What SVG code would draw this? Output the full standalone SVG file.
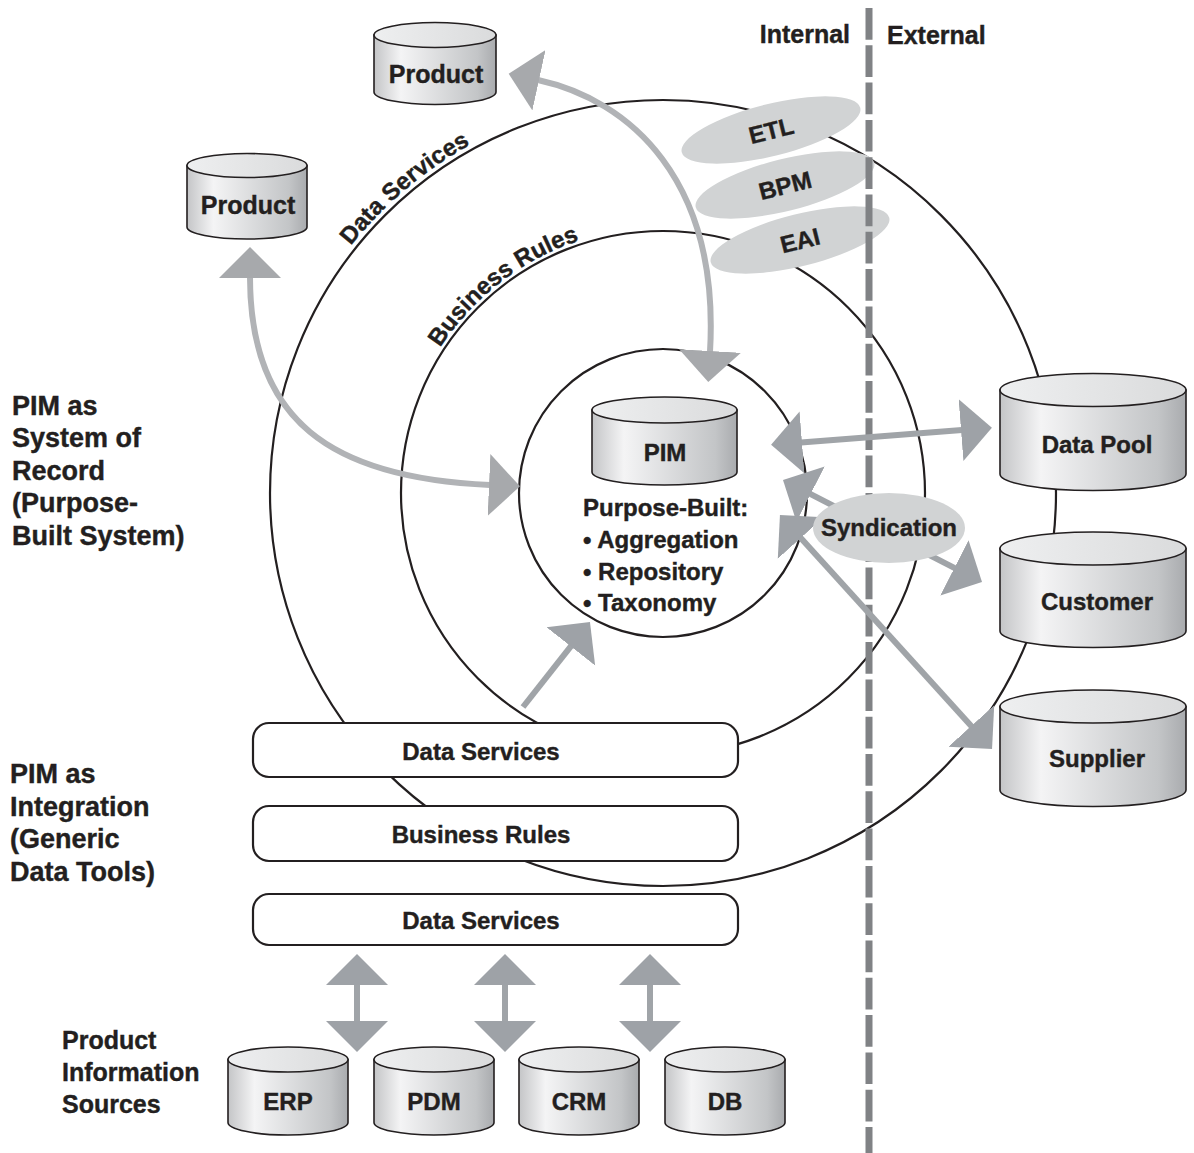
<svg xmlns="http://www.w3.org/2000/svg" width="1194" height="1153" viewBox="0 0 1194 1153">
<defs>
<style>
text { font-family: "Liberation Sans", Arial, sans-serif; font-weight: bold; fill: #231f20; stroke: #231f20; stroke-width: 0.4; font-size: 24px; }
.lbl { font-size: 27px; }
.big { font-size: 25px; }
.mid { text-anchor: middle; }
.ring { fill: none; stroke: #231f20; stroke-width: 2.2; }
.box { fill: #ffffff; stroke: #231f20; stroke-width: 2.2; }
.cyl { fill: url(#cylGrad); stroke: #231f20; stroke-width: 1.6; }
.cyltop { fill: url(#topGrad); stroke: #231f20; stroke-width: 1.6; }
.oval { fill: #d1d3d4; }
.shaft { fill: none; stroke: #a0a4a8; stroke-width: 6; marker-start: url(#ah); marker-end: url(#ah); }
.cshaft { fill: none; stroke: #b1b3b6; stroke-width: 6; marker-start: url(#ahc); marker-end: url(#ahc); }
.single { fill: none; stroke: #a0a4a8; stroke-width: 6; marker-end: url(#ah); }
.divider { fill: none; stroke: #808285; stroke-width: 7; stroke-dasharray: 31.7 5.6; }
</style>
<linearGradient id="cylGrad" x1="0" y1="0" x2="1" y2="0">
<stop offset="0" stop-color="#c4c5c7"/>
<stop offset="0.22" stop-color="#f4f4f5"/>
<stop offset="0.85" stop-color="#c3c5c7"/>
<stop offset="1" stop-color="#a9abae"/>
</linearGradient>
<linearGradient id="topGrad" x1="0" y1="0" x2="1" y2="0">
<stop offset="0" stop-color="#eeeff0"/>
<stop offset="1" stop-color="#dadbdc"/>
</linearGradient>
<marker id="ah" markerUnits="userSpaceOnUse" viewBox="0 0 32 64" markerWidth="32" markerHeight="64" refX="1" refY="32" orient="auto-start-reverse">
<path d="M0,1 L31,32 L0,63 Z" fill="#9ea2a7"/>
</marker>
<marker id="ahc" markerUnits="userSpaceOnUse" viewBox="0 0 32 64" markerWidth="32" markerHeight="64" refX="1" refY="32" orient="auto-start-reverse">
<path d="M0,1 L31,32 L0,63 Z" fill="#a7a9ac"/>
</marker>
<path id="arcOuter" d="M318.3,294 A398,398 0 0 1 862,148.3"/>
<path id="arcMid" d="M432.6,360 A266,266 0 0 1 796,262.6"/>
</defs>

<g id="rings">
<circle class="ring" cx="663" cy="493" r="393"/>
<circle class="ring" cx="663" cy="493" r="262"/>
<circle class="ring" cx="663" cy="493" r="144"/>
<text><textPath href="#arcOuter" startOffset="137" text-anchor="middle">Data Services</textPath></text>
<text><textPath href="#arcMid" startOffset="104" text-anchor="middle">Business Rules</textPath></text>
</g>

<g id="etl" transform="rotate(-14 771 130)">
<ellipse class="oval" cx="771" cy="130" rx="92" ry="26"/>
<text class="mid" x="771" y="139">ETL</text>
</g>
<g id="bpm" transform="rotate(-14 785 185)">
<ellipse class="oval" cx="785" cy="185" rx="92" ry="26"/>
<text class="mid" x="785" y="194">BPM</text>
</g>
<g id="eai" transform="rotate(-14 800 240)">
<ellipse class="oval" cx="800" cy="240" rx="92" ry="26"/>
<text class="mid" x="800" y="249">EAI</text>
</g>

<g id="boundary">
<line class="divider" x1="869" y1="8" x2="869" y2="1153"/>
<text class="big" x="850" y="43" text-anchor="end">Internal</text>
<text class="big" x="887" y="44">External</text>
</g>

<g id="connectors">
<path class="cshaft" d="M538,80 C630,100 720,180 710,352"/>
<path class="cshaft" d="M250,277 C250,420 330,478 490,485"/>
<path class="shaft" d="M801,442.5 L962,430"/>
<path class="shaft" d="M809.7,493.7 L955.3,568.3"/>
<path class="shaft" d="M800.1,537.2 L971.9,726.8"/>
<path class="single" d="M523,707 L571.4,645.6"/>
<path class="shaft" d="M357,984 L357,1022"/>
<path class="shaft" d="M505,984 L505,1022"/>
<path class="shaft" d="M650,984 L650,1022"/>
</g>

<g id="syndication">
<ellipse class="oval" cx="889" cy="528" rx="76" ry="35"/>
<text class="mid" x="889" y="536">Syndication</text>
</g>

<g id="product-top">
<path class="cyl" d="M374,35 L374,92 A61,12.5 0 0 0 496,92 L496,35 Z"/>
<ellipse class="cyltop" cx="435" cy="35" rx="61" ry="12.5"/>
<text class="mid big" x="436" y="83">Product</text>
</g>
<g id="product-left">
<path class="cyl" d="M187,165.5 L187,227 A60,12 0 0 0 307,227 L307,165.5 Z"/>
<ellipse class="cyltop" cx="247" cy="165.5" rx="60" ry="12"/>
<text class="mid big" x="248" y="214">Product</text>
</g>
<g id="pim">
<path class="cyl" d="M592,410 L592,472 A72.5,13 0 0 0 737,472 L737,410 Z"/>
<ellipse class="cyltop" cx="664.5" cy="410" rx="72.5" ry="13"/>
<text class="mid" x="665" y="461">PIM</text>
<text x="583" y="516">Purpose-Built:</text>
<text x="583" y="548">• Aggregation</text>
<text x="583" y="580">• Repository</text>
<text x="583" y="611">• Taxonomy</text>
</g>
<g id="data-pool">
<path class="cyl" d="M1000,390 L1000,474 A93,16.5 0 0 0 1186,474 L1186,390 Z"/>
<ellipse class="cyltop" cx="1093" cy="390" rx="93" ry="16.5"/>
<text class="mid" x="1097" y="453">Data Pool</text>
</g>
<g id="customer">
<path class="cyl" d="M1000,548.5 L1000,631 A93,16.5 0 0 0 1186,631 L1186,548.5 Z"/>
<ellipse class="cyltop" cx="1093" cy="548.5" rx="93" ry="16.5"/>
<text class="mid" x="1097" y="610">Customer</text>
</g>
<g id="supplier">
<path class="cyl" d="M1000,706.5 L1000,790 A93,16.5 0 0 0 1186,790 L1186,706.5 Z"/>
<ellipse class="cyltop" cx="1093" cy="706.5" rx="93" ry="16.5"/>
<text class="mid" x="1097" y="767">Supplier</text>
</g>
<g id="erp">
<path class="cyl" d="M228,1059.5 L228,1122.5 A60,12.5 0 0 0 348,1122.5 L348,1059.5 Z"/>
<ellipse class="cyltop" cx="288" cy="1059.5" rx="60" ry="12.5"/>
<text class="mid" x="288" y="1110">ERP</text>
</g>
<g id="pdm">
<path class="cyl" d="M374,1059.5 L374,1122.5 A60,12.5 0 0 0 494,1122.5 L494,1059.5 Z"/>
<ellipse class="cyltop" cx="434" cy="1059.5" rx="60" ry="12.5"/>
<text class="mid" x="434" y="1110">PDM</text>
</g>
<g id="crm">
<path class="cyl" d="M519,1059.5 L519,1122.5 A60,12.5 0 0 0 639,1122.5 L639,1059.5 Z"/>
<ellipse class="cyltop" cx="579" cy="1059.5" rx="60" ry="12.5"/>
<text class="mid" x="579" y="1110">CRM</text>
</g>
<g id="db">
<path class="cyl" d="M665,1059.5 L665,1122.5 A60,12.5 0 0 0 785,1122.5 L785,1059.5 Z"/>
<ellipse class="cyltop" cx="725" cy="1059.5" rx="60" ry="12.5"/>
<text class="mid" x="725" y="1110">DB</text>
</g>

<g id="box-data-services-1">
<rect class="box" x="253" y="723" width="485" height="54" rx="16"/>
<text class="mid" x="481" y="760">Data Services</text>
</g>
<g id="box-business-rules">
<rect class="box" x="253" y="806" width="485" height="55" rx="16"/>
<text class="mid" x="481" y="843">Business Rules</text>
</g>
<g id="box-data-services-2">
<rect class="box" x="253" y="894" width="485" height="51" rx="16"/>
<text class="mid" x="481" y="929">Data Services</text>
</g>

<g id="label-system-of-record">
<text class="lbl" x="12" y="415">PIM as</text>
<text class="lbl" x="12" y="447">System of</text>
<text class="lbl" x="12" y="480">Record</text>
<text class="lbl" x="12" y="512">(Purpose-</text>
<text class="lbl" x="12" y="545">Built System)</text>
</g>
<g id="label-integration">
<text class="lbl" x="10" y="783">PIM as</text>
<text class="lbl" x="10" y="816">Integration</text>
<text class="lbl" x="10" y="848">(Generic</text>
<text class="lbl" x="10" y="881">Data Tools)</text>
</g>
<g id="label-sources">
<text class="big" x="62" y="1049">Product</text>
<text class="big" x="62" y="1081">Information</text>
<text class="big" x="62" y="1113">Sources</text>
</g>
</svg>
